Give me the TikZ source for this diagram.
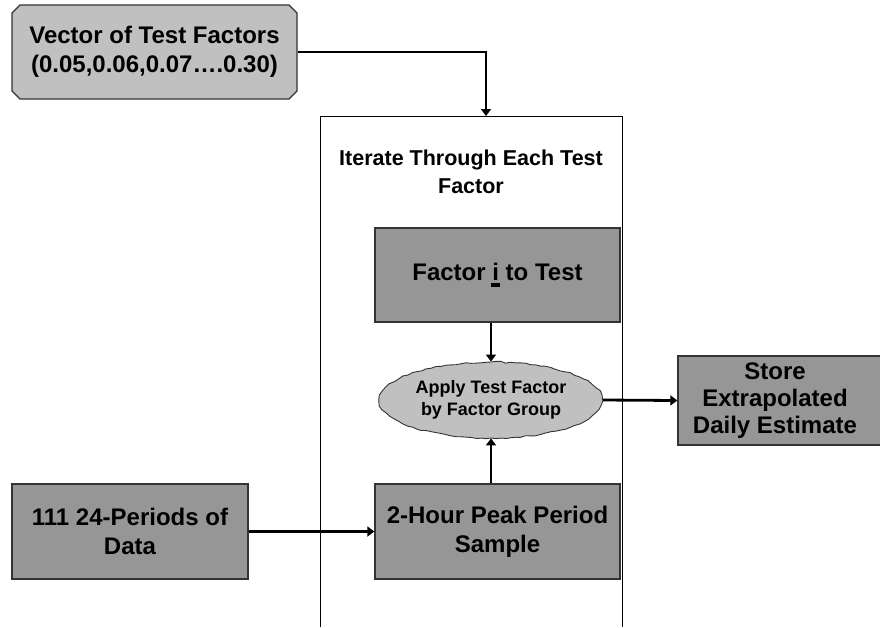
\documentclass[tikz,border=0pt]{standalone}
\usepackage{fontspec}
\setmainfont{Liberation Sans}
\usetikzlibrary{shapes.geometric,shapes.misc,arrows.meta,decorations.pathmorphing}

\definecolor{lightbox}{HTML}{C0C0C0}
\definecolor{darkbox}{HTML}{969696}
\definecolor{edge}{HTML}{333333}

\tikzset{
  base/.style={font=\bfseries, text=black, align=center, inner sep=0pt},
  greybox/.style={base, rectangle, fill=darkbox, draw=edge, line width=1.4pt},
  vecbox/.style={base, chamfered rectangle, chamfered rectangle xsep=4pt,
    chamfered rectangle ysep=4pt, fill=lightbox, draw=edge, line width=1.2pt},
  wavyoval/.style={base, ellipse, minimum width=223pt, minimum height=76pt,
    preaction={fill=lightbox},
    draw=edge, line width=0.9pt,
    decorate, decoration={random steps, segment length=5pt, amplitude=0.9pt}},
  flow/.style={line width=2.8pt, -{Triangle[length=7pt,width=10pt]}},
  big/.style={font=\fontsize{24}{29}\selectfont\bfseries},
}

\newcommand\ibar{\rlap{\hspace{-1.3pt}\rule[-6pt]{9pt}{4pt}}i}

\begin{document}
\begin{tikzpicture}[x=1pt,y=-1pt]
  \useasboundingbox (0,0) rectangle (880,627);

  % loop container, open at the bottom
  \draw[line width=1pt] (320,627) -- (320,116) -- (622,116) -- (622,627);
  \coordinate (looptop) at (486,116);

  \node[base, font=\fontsize{21.5}{28}\selectfont\bfseries] (title) at (471,172)
    {Iterate Through Each Test\\Factor};

  \node[vecbox, big, minimum width=285pt, minimum height=94pt] (vec) at (154.5,52)
    {Vector of Test Factors\\(0.05,0.06,0.07….0.30)};

  \node[greybox, big, minimum width=245pt, minimum height=94pt] (fac) at (497.5,275)
    {Factor \ibar{} to Test};

  \node[wavyoval] (app) at (491,400) {};
  \node[base, font=\fontsize{18}{22}\selectfont\bfseries] (apptxt) at (491,400)
    {Apply Test Factor\\by Factor Group};

  \node[greybox, minimum width=214pt, minimum height=89pt] (store) at (785,400.5) {};
  \node[base, font=\fontsize{24}{27}\selectfont\bfseries] (storetxt) at (775,400.5)
    {Store\\Extrapolated\\Daily Estimate};

  \node[greybox, big, minimum width=245pt, minimum height=95pt] (two) at (497.5,531.5)
    {2-Hour Peak Period\\Sample};

  \node[greybox, big, minimum width=236pt, minimum height=95pt] (data) at (130,531.5)
    {111 24-Periods of\\Data};

  % connectors
  \draw[flow] (vec.east) -| (looptop);
  \draw[flow] (fac.south -| app.north) -- (app.north);
  \draw[flow] (two.north -| app.south) -- (app.south);
  \draw[flow] (app.east) -- (store.west);
  \draw[flow] (data.east) -- (two.west);
\end{tikzpicture}
\end{document}
